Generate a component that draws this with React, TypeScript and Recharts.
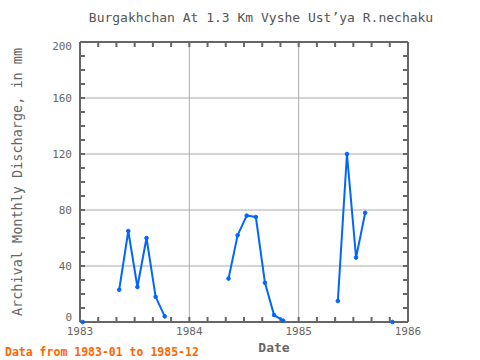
import React from 'react';
import { LineChart, Line, XAxis, YAxis, ReferenceLine } from 'recharts';

const months = [
  '1983-01','1983-02','1983-03','1983-04','1983-05','1983-06','1983-07','1983-08','1983-09','1983-10','1983-11','1983-12',
  '1984-01','1984-02','1984-03','1984-04','1984-05','1984-06','1984-07','1984-08','1984-09','1984-10','1984-11','1984-12',
  '1985-01','1985-02','1985-03','1985-04','1985-05','1985-06','1985-07','1985-08','1985-09','1985-10','1985-11','1985-12',
];
const discharge1983: (number | null)[] = [0, null, null, null, 23, 65, 25, 60, 18, 4, null, null];
const discharge1984: (number | null)[] = [null, null, null, null, 31, 62, 76, 75, 28, 5, 1, null];
const discharge1985: (number | null)[] = [null, null, null, null, 15, 120, 46, 78, null, null, 0, null];
const yearTicks = [1983, 1984, 1985, 1986];
const yTicks = [0, 40, 80, 120, 160, 200];
const gridX = [1984, 1985];
const gridY = [40, 80, 120, 160];

const values = [...discharge1983, ...discharge1984, ...discharge1985];
const toDecimal = (s: string) => {
  const [y, m] = s.split('-').map(Number);
  return y + (m - 1 + 0.3) / 12;
};
const data = months.map((m, i) => ({ t: toDecimal(m), v: values[i] }));

const minorX: number[] = [];
for (let k = 0; k <= 18; k++) minorX.push(1983 + k / 6);
const minorY: number[] = [];
for (let k = 0; k <= 20; k++) minorY.push(k * 10);

// tick length (5px) expressed in axis units: plot is 328px for 3 years, 280px for 200 mm
const TICK_LEN_Y = (5 * 200) / 280;
const TICK_LEN_X = (5 * 3) / 328;

const FONT = '"DejaVu Sans Mono", monospace';
const AX = '#666666';
const TXT = '#666666';

const makeTick = (dx: number, dy: number) => (props: any) => {
  const x = Number(props.x);
  const y = Number(props.y);
  return <path d={`M${x},${y}L${x + dx},${y + dy}`} stroke={AX} strokeWidth={2} fill="none" />;
};
const TopTick = makeTick(0, 5);
const RightTick = makeTick(-5, 0);

const XMainTick = (props: any) => {
  const x = Number(props.x);
  const y = Number(props.y);
  const v = props.payload.value;
  return (
    <text x={x} y={y + 5} dy="0.71em" textAnchor="middle" fill={TXT} fontSize={11} fontFamily={FONT}>
      {Math.round(v)}
    </text>
  );
};

const YMainTick = (props: any) => {
  const x = Number(props.x);
  const y = Number(props.y);
  const v = props.payload.value;
  let shift = 0;
  if (v === 0) shift = -5;
  if (v === 200) shift = 4;
  return (
    <text x={x - 8} y={y + shift} dy="0.355em" textAnchor="end" fill={TXT} fontSize={11} fontFamily={FONT}>
      {v}
    </text>
  );
};

export default function App() {
  return (
    <div style={{ position: 'absolute', left: 0, top: 0, width: 480, height: 360, background: '#fff' }}>
      <LineChart width={480} height={360} data={data} margin={{ top: 42, right: 72, bottom: 8, left: 50 }}>
        {gridX.map((g) => (
          <ReferenceLine key={'gx' + g} x={g} stroke="#aaaaaa" strokeWidth={1} />
        ))}
        {gridY.map((g) => (
          <ReferenceLine key={'gy' + g} y={g} stroke="#aaaaaa" strokeWidth={1} />
        ))}
        {minorX.map((t) => (
          <ReferenceLine
            key={'bt' + t}
            segment={[{ x: t, y: 0 }, { x: t, y: TICK_LEN_Y }]}
            stroke={AX}
            strokeWidth={2}
            ifOverflow="visible"
          />
        ))}
        {minorY.map((v) => (
          <ReferenceLine
            key={'lt' + v}
            segment={[{ x: 1983, y: v }, { x: 1983 + TICK_LEN_X, y: v }]}
            stroke={AX}
            strokeWidth={2}
            ifOverflow="visible"
          />
        ))}
        <XAxis
          dataKey="t"
          type="number"
          domain={[1983, 1986]}
          ticks={yearTicks}
          interval={0}
          tickLine={false}
          tickSize={0}
          tickMargin={0}
          axisLine={{ stroke: AX, strokeWidth: 2 }}
          tick={XMainTick}
          height={30}
        />
        <XAxis
          xAxisId="top"
          orientation="top"
          dataKey="t"
          type="number"
          domain={[1983, 1986]}
          ticks={minorX}
          interval={0}
          mirror
          tick={TopTick}
          tickLine={false}
          tickSize={0}
          tickMargin={0}
          axisLine={{ stroke: AX, strokeWidth: 2 }}
          height={1}
        />
        <YAxis
          type="number"
          domain={[0, 200]}
          ticks={yTicks}
          interval={0}
          width={30}
          tickLine={false}
          tickSize={0}
          tickMargin={0}
          axisLine={{ stroke: AX, strokeWidth: 2 }}
          tick={YMainTick}
        />
        <YAxis
          yAxisId="right"
          orientation="right"
          type="number"
          domain={[0, 200]}
          ticks={minorY}
          interval={0}
          mirror
          tick={RightTick}
          tickLine={false}
          tickSize={0}
          tickMargin={0}
          axisLine={{ stroke: AX, strokeWidth: 2 }}
          width={1}
        />
        <Line
          xAxisId="top"
          yAxisId="right"
          dataKey="v"
          stroke="none"
          dot={false}
          legendType="none"
          isAnimationActive={false}
        />
        <Line
          type="linear"
          dataKey="v"
          stroke="#0066ff"
          strokeWidth={2}
          dot={{ r: 1.8, fill: '#0066ff', stroke: '#0066ff', strokeWidth: 1, clipDot: false }}
          connectNulls={false}
          isAnimationActive={false}
        />
      </LineChart>
      <svg width={480} height={360} style={{ position: 'absolute', left: 0, top: 0, pointerEvents: 'none' }}>
        <text x={261} y={22} textAnchor="middle" fontFamily={FONT} fontSize={13} fill="#555555">
          Burgakhchan At 1.3 Km Vyshe Ust’ya R.nechaku
        </text>
        <text
          x={22}
          y={182}
          textAnchor="middle"
          fontFamily={FONT}
          fontSize={13.5}
          fill={TXT}
          transform="rotate(-90 22 182)"
        >
          Archival Monthly Discharge, in mm
        </text>
        <text x={274} y={352} textAnchor="middle" fontFamily={FONT} fontSize={13} fontWeight="bold" fill={TXT}>
          Date
        </text>
        <text x={5} y={356} fontFamily={FONT} fontSize={11.5} fontWeight="bold" fill="#ff6600">
          Data from 1983-01 to 1985-12
        </text>
      </svg>
    </div>
  );
}
